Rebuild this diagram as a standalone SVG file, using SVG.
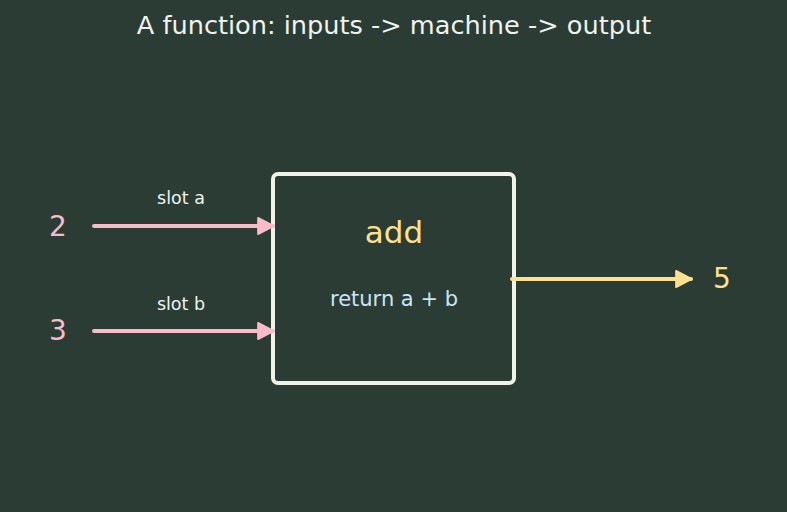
<svg xmlns="http://www.w3.org/2000/svg" width="787" height="512" viewBox="0 0 787 512">
<defs>
<style>
text{font-family:"DejaVu Sans","Liberation Sans",sans-serif;text-anchor:middle;dominant-baseline:central}
.in{stroke:#f8bbcb;stroke-width:4;stroke-linecap:round;fill:none}
.out{stroke:#ffe08f;stroke-width:4;stroke-linecap:round;fill:none}
</style>
<marker id="hp" viewBox="0 0 10 10" refX="9" refY="5" markerWidth="4.4" markerHeight="4.5" markerUnits="strokeWidth" orient="auto" preserveAspectRatio="none"><path d="M0.5,0.5L9.5,5L0.5,9.5z" fill="#f8bbcb" stroke="#f8bbcb" stroke-linejoin="round"/></marker>
<marker id="hy" viewBox="0 0 10 10" refX="9" refY="5" markerWidth="4.4" markerHeight="4.5" markerUnits="strokeWidth" orient="auto" preserveAspectRatio="none"><path d="M0.5,0.5L9.5,5L0.5,9.5z" fill="#ffe08f" stroke="#ffe08f" stroke-linejoin="round"/></marker>
</defs>
<rect width="787" height="512" fill="#2b3c34"/>
<text x="394" y="25" font-size="25.6" fill="#eef3ee">A function: inputs -&gt; machine -&gt; output</text>
<g id="machine">
<rect x="273" y="174" width="241" height="209" rx="5" fill="#2b3c34" stroke="#f2f2ea" stroke-width="4"/>
<text x="394" y="232" font-size="31" fill="#ffe08f">add</text>
<text x="394" y="299" font-size="21" fill="#cbe4f6">return a + b</text>
</g>
<g id="input-a"><text x="58" y="226" font-size="28" fill="#f8bbcb">2</text></g>
<g id="input-b"><text x="58" y="330" font-size="28" fill="#f8bbcb">3</text></g>
<g id="output"><text x="722" y="278" font-size="28" fill="#ffe08f">5</text></g>
<g id="connectors">
<line class="in" x1="94" y1="226" x2="273" y2="226" marker-end="url(#hp)"/>
<line class="in" x1="94" y1="331" x2="273" y2="331" marker-end="url(#hp)"/>
<line class="out" x1="512" y1="279" x2="691" y2="279" marker-end="url(#hy)"/>
<text x="181" y="198" font-size="17.5" fill="#eef3ee">slot a</text>
<text x="181" y="304" font-size="17.5" fill="#eef3ee">slot b</text>
</g>
</svg>
